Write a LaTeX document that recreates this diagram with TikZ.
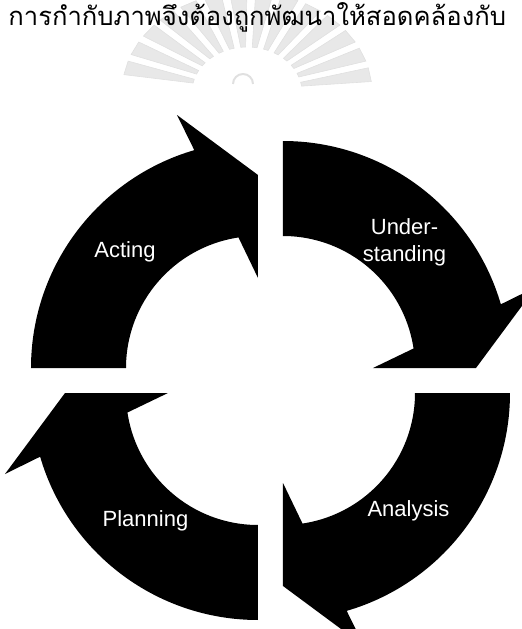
\documentclass[tikz,border=0pt]{standalone}
\usepackage{fontspec}
\usepackage{tikz}
\setmainfont{Liberation Sans}
\newfontfamily\thaifont[Script=Thai]{Loma}
\definecolor{crestgray}{HTML}{E8E8E8}
\colorlet{labelcolor}{white}
\tikzstyle{steplabel} = [
    text=labelcolor,
    font=\fontsize{11}{13.5}\selectfont,
    align=center,
    inner sep=0pt
    ]
\tikzstyle{blockarrow} = [fill=black]
\tikzstyle{crestray} = [
    fill=crestgray,
    draw=black!12,
    line width=0.3pt
    ]
\newcommand{\cyclearrow}[2]{% quarter arrow: centre, turn
\fill[blockarrow, shift={#1}, rotate=#2]
    (-227,0) arc[start angle=180, end angle=106.3, radius=227]
    -- (-81,253) -- (0,193) -- (0,90) -- (98.5:132)
    arc[start angle=98.5, end angle=180, radius=132] -- cycle;}

\begin{document}
\begin{tikzpicture}[x=0.5pt, y=0.5pt]
\clip (0,0) rectangle (522,629);
% crest behind the page text
\foreach \a in {10,22,...,170}
    \fill[crestray, shift={(247,537)}] (\a-2.5:55 and 45) -- (\a-4:125 and 100)
        -- (\a+4:125 and 100) -- (\a+2.5:55 and 45) -- cycle;
\draw[draw=black!12, line width=1pt] (233,545) arc[start angle=180, end angle=0, radius=10];
\node[anchor=base west, inner sep=0pt, font=\thaifont\fontsize{12.8}{15}\selectfont] (thailine)
    at (8,604) {การกำกับภาพจึงต้องถูกพัฒนาให้สอดคล้องกับ};

\cyclearrow{(258,261)}{0}
\cyclearrow{(283,261)}{-90}
\cyclearrow{(283,236)}{180}
\cyclearrow{(258,236)}{90}

\node[steplabel] (acting) at (125,377.5) {Acting};
\node[steplabel] (understanding) at (404.5,386.5) {Under-\\standing};
\node[steplabel] (analysis) at (408.5,118) {Analysis};
\node[steplabel] (planning) at (145.5,108) {Planning};
\end{tikzpicture}
\end{document}
